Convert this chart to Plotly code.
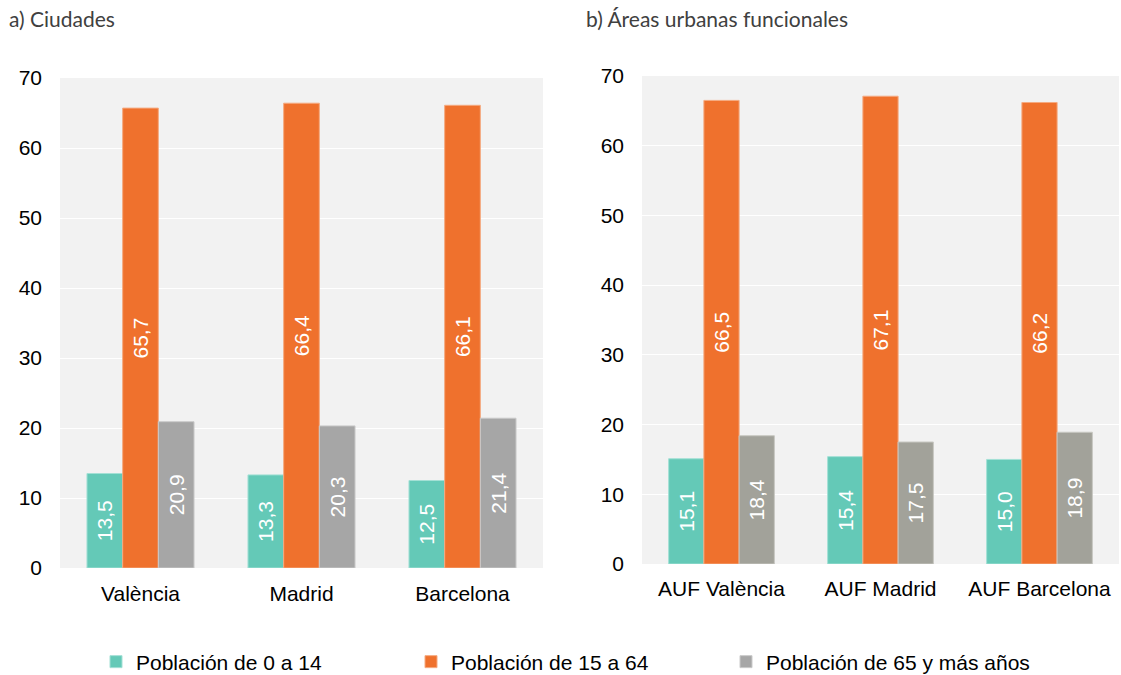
import plotly.graph_objects as go

series_names = ["Población de 0 a 14", "Población de 15 a 64", "Población de 65 y más años"]
cities = ["València", "Madrid", "Barcelona"]
city_0_14 = [13.5, 13.3, 12.5]
city_15_64 = [65.7, 66.4, 66.1]
city_65 = [20.9, 20.3, 21.4]

auf = ["AUF València", "AUF Madrid", "AUF Barcelona"]
auf_0_14 = [15.1, 15.4, 15.0]
auf_15_64 = [66.5, 67.1, 66.2]
auf_65 = [18.4, 17.5, 18.9]

y_ticks = [0, 10, 20, 30, 40, 50, 60, 70]

colors_left = ["#64C9B7", "#EF712D", "#A6A6A6"]
colors_right = ["#64C9B7", "#EF712D", "#A2A29A"]
edge_left = ["#A3E0D5", "#F5AA80", "#CACACA"]
edge_right = ["#A3E0D5", "#F5AA80", "#C8C8C2"]

fig = go.Figure()

def add_panel(cats, vals_list, xa, ya, colors, edges, show):
    for name, vals, c, e in zip(series_names, vals_list, colors, edges):
        fig.add_trace(go.Bar(
            x=cats, y=vals, name=name, marker=dict(color=c, line=dict(color=e, width=1)),
            xaxis=xa, yaxis=ya, showlegend=show, legendgroup=name,
            texttemplate="%{y:.1f}", textposition="inside", textangle=-90,
            insidetextanchor="middle",
            textfont=dict(family="Liberation Sans, Arial", size=21, color="white"),
            hoverinfo="skip",
        ))

add_panel(cities, [city_0_14, city_15_64, city_65], "x", "y", colors_left, edge_left, True)
add_panel(auf, [auf_0_14, auf_15_64, auf_65], "x2", "y2", colors_right, edge_right, False)

W, H = 1121, 675
axis_font = dict(family="Liberation Sans, Arial", size=21, color="#000000")

fig.update_layout(
    width=W, height=H,
    autosize=False,
    margin=dict(l=0, r=0, t=0, b=0, autoexpand=False),
    paper_bgcolor="white",
    separators=",.",
    barmode="group", bargap=0.335, bargroupgap=0,
    uniformtext=dict(minsize=21, mode="show"),
    xaxis=dict(domain=[60 / W, 543 / W], anchor="y", tickfont=axis_font, showgrid=False,
               showline=False, ticks="", automargin=False, ticklabelstandoff=11),
    yaxis=dict(domain=[1 - 568 / H, 1 - 78 / H], anchor="x", range=[0, 70], tickvals=y_ticks,
               tickfont=axis_font, gridcolor="white", gridwidth=1, zeroline=False,
               ticklabelstandoff=17, automargin=False),
    xaxis2=dict(domain=[642 / W, 1119 / W], anchor="y2", tickfont=axis_font, showgrid=False,
                showline=False, ticks="", automargin=False, ticklabelstandoff=10),
    yaxis2=dict(domain=[1 - 564 / H, 1 - 76 / H], anchor="x2", range=[0, 70], tickvals=y_ticks,
                tickfont=axis_font, gridcolor="white", gridwidth=1, zeroline=False,
                ticklabelstandoff=17, automargin=False),
    plot_bgcolor="#F2F2F2",
    legend=dict(orientation="h", x=96 / W, xanchor="left", y=1 - 662 / H, yanchor="middle",
                font=dict(family="Liberation Sans, Arial", size=21, color="#000000"),
                entrywidth=270, entrywidthmode="pixels", traceorder="normal",
                bgcolor="rgba(0,0,0,0)"),
    annotations=[
        dict(text="a) Ciudades", x=7 / W, y=1 - 19 / H, xref="paper", yref="paper",
             xanchor="left", yanchor="middle", showarrow=False,
             font=dict(family="Lato", size=21, color="#404040")),
        dict(text="b) Áreas urbanas funcionales", x=584 / W, y=1 - 19 / H, xref="paper", yref="paper",
             xanchor="left", yanchor="middle", showarrow=False,
             font=dict(family="Lato", size=21, color="#404040")),
    ],
)

fig.write_html("out.html", config={"responsive": False, "displayModeBar": False},
               post_script="document.body.style.margin='0';document.body.style.overflow='hidden';")
